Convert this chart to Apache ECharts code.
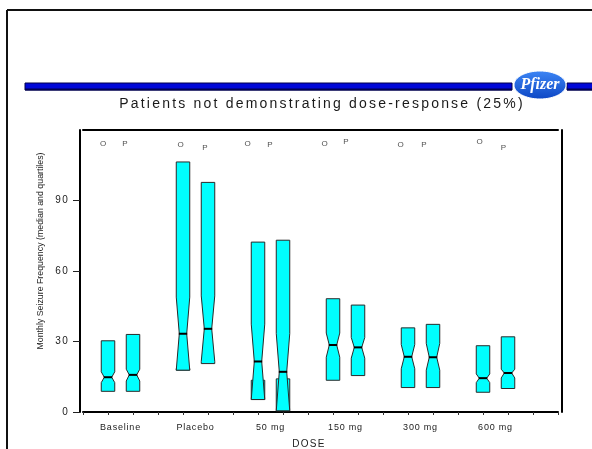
<!DOCTYPE html>
<html>
<head>
<meta charset="utf-8">
<script src="https://cdn.jsdelivr.net/npm/echarts@6/dist/echarts.min.js"></script>
<style>
html,body{margin:0;padding:0;background:#fff;}
#chart{width:592px;height:449px;}
</style>
</head>
<body>
<div id="chart"></div>
<script>
// ---------- data ----------
const categories = ['Baseline', 'Placebo', '50 mg', '150 mg', '300 mg', '600 mg'];
const boxLabels = ['O', 'P'];
// per box (O then P for each dose group)
const q1Values     = [8.8, 8.8, 18.5, 20.6, 13.5, 14.1, 13.5, 15.5, 10.4, 10.4, 8.4, 10.0];
const q3Values     = [30.3, 33.0, 106.4, 97.7, 72.3, 73.1, 48.2, 45.5, 35.8, 37.3, 28.2, 32.0];
const medianValues = [14.8, 15.8, 33.3, 35.4, 21.5, 17.1, 28.5, 27.5, 23.5, 23.3, 14.4, 16.6];
const notchLow     = [12.5, 13.2, 17.8, 21.5, 5.3, 0.5, 23.3, 22.9, 18.4, 17.8, 12.5, 14.5];
const notchHigh    = [17.1, 18.2, 48.9, 49.4, 37.4, 33.4, 33.6, 31.7, 28.7, 29.2, 16.2, 18.2];
// O / P annotation marks near the top (x in axis units, y in frequency units)
const oMarkX = [0.8, 3.9, 6.58, 9.66, 12.7, 15.86];
const oMarkY = [114.3, 113.5, 114.3, 114.3, 113.5, 114.8];
const pMarkX = [1.68, 4.88, 7.48, 10.52, 13.64, 16.82];
const pMarkY = [114.3, 112.6, 113.5, 114.8, 113.5, 112.6];
const yTicks = [0, 30, 60, 90];

// ---------- letter spacing (the reference text is widely tracked) ----------
(function () {
  const proto = CanvasRenderingContext2D.prototype;
  const orig = proto.fillText;
  const spacingBySize = { '14': 2.2, '9': 0.8, '10': 1.3 };
  proto.fillText = function (t, x, y, m) {
    const mm = /([\d.]+)px/.exec(this.font || '');
    const s = mm && spacingBySize[mm[1]] !== undefined ? spacingBySize[mm[1]] : 0;
    try { this.letterSpacing = s + 'px'; } catch (e) {}
    return m === undefined ? orig.call(this, t, x, y) : orig.call(this, t, x, y, m);
  };
})();

// ---------- build series data ----------
const boxData = [];
for (let i = 0; i < q1Values.length; i++) {
  const grp = Math.floor(i / 2), sub = i % 2;
  boxData.push([grp * 3 + 1 + sub, q1Values[i], q3Values[i], medianValues[i], notchLow[i], notchHigh[i]]);
}
const markData = [];
for (let g = 0; g < categories.length; g++) {
  markData.push({ value: [oMarkX[g], oMarkY[g]], name: boxLabels[0] });
  markData.push({ value: [pMarkX[g], pMarkY[g]], name: boxLabels[1] });
}
const tickVals = [];
for (let v = 0; v <= 19; v++) tickVals.push(v);
const labelVals = categories.map((c, i) => i * 3 + 1.5);

const FONT = 'Liberation Sans';
const CYAN = '#00ffff';
const EDGE = '#2a2a2a';

function renderBox(params, api) {
  const x = api.value(0);
  const q1 = api.value(1), q3 = api.value(2), med = api.value(3), nLo = api.value(4), nHi = api.value(5);
  const cx = api.coord([x, 0])[0];
  const hw = api.size([0.27, 0])[0];
  const ww = hw * 0.55;
  const L = cx - hw, R = cx + hw;
  const y = v => api.coord([x, v])[1];
  const yQ1 = y(q1), yQ3 = y(q3), yMed = y(med), yLo = y(nLo), yHi = y(nHi);
  const children = [];
  let pts;
  if (nLo >= q1) {
    pts = [[L, yQ3], [R, yQ3], [R, yHi], [cx + ww, yMed], [R, yLo], [R, yQ1], [L, yQ1], [L, yLo], [cx - ww, yMed], [L, yHi]];
  } else {
    children.push({
      type: 'rect',
      shape: { x: L, y: yQ1, width: 2 * hw, height: yLo - yQ1 },
      style: { fill: CYAN, stroke: EDGE, lineWidth: 1 }
    });
    pts = [[L, yQ3], [R, yQ3], [R, yHi], [cx + ww, yMed], [R, yLo], [L, yLo], [cx - ww, yMed], [L, yHi]];
  }
  children.push({
    type: 'polygon',
    shape: { points: pts },
    style: { fill: CYAN, stroke: EDGE, lineWidth: 1 }
  });
  children.push({
    type: 'line',
    shape: { x1: cx - ww - 0.5, y1: yMed, x2: cx + ww + 0.5, y2: yMed },
    style: { stroke: '#000', lineWidth: 2 }
  });
  return { type: 'group', children: children };
}

const chart = echarts.init(document.getElementById('chart'), null, { renderer: 'canvas' });
chart.setOption({
  backgroundColor: '#ffffff',
  animation: false,
  grid: { left: 83, right: 34, top: 130, bottom: 37 },
  xAxis: [
    {
      type: 'value', position: 'bottom', min: 0, max: 19, interval: 1,
      axisLine: { show: true, lineStyle: { color: '#000', width: 2 } },
      axisTick: { show: true, length: 3, customValues: tickVals, lineStyle: { color: '#333', width: 1 } },
      axisLabel: {
        show: true, customValues: labelVals, margin: 11,
        color: '#222', fontFamily: FONT, fontSize: 9,
        formatter: v => categories[Math.round((v - 1.5) / 3)] || ''
      },
      splitLine: { show: false }
    },
    {
      type: 'value', position: 'top', min: 0, max: 19,
      axisLine: { show: true, onZero: false, lineStyle: { color: '#000', width: 2 } },
      axisTick: { show: false }, axisLabel: { show: false }, splitLine: { show: false }
    }
  ],
  yAxis: [
    {
      type: 'value', position: 'left', min: 0, max: 120, interval: 30, offset: 3,
      axisLine: { show: true, onZero: false, lineStyle: { color: '#000', width: 2 } },
      axisTick: { show: true, length: 7, customValues: yTicks, lineStyle: { color: '#222', width: 1 } },
      axisLabel: { show: true, customValues: yTicks, margin: 11, color: '#222', fontFamily: FONT, fontSize: 10 },
      splitLine: { show: false }
    },
    {
      type: 'value', position: 'right', min: 0, max: 120, offset: 4,
      axisLine: { show: true, onZero: false, lineStyle: { color: '#000', width: 2 } },
      axisTick: { show: false }, axisLabel: { show: false }, splitLine: { show: false }
    }
  ],
  series: [
    {
      type: 'custom',
      xAxisIndex: 0, yAxisIndex: 0,
      renderItem: renderBox,
      data: boxData,
      encode: { x: 0, y: [1, 2, 3, 4, 5] },
      silent: true
    },
    {
      type: 'scatter',
      xAxisIndex: 0, yAxisIndex: 0,
      symbolSize: 0,
      data: markData,
      label: {
        show: true, position: 'inside', formatter: p => p.name,
        color: '#222', fontFamily: FONT, fontSize: 8
      },
      silent: true
    }
  ],
  graphic: [
    // outer slide frame
    { type: 'line', shape: { x1: 7, y1: 10, x2: 592, y2: 10 }, style: { stroke: '#111', lineWidth: 2 } },
    { type: 'line', shape: { x1: 7, y1: 10, x2: 7, y2: 449 }, style: { stroke: '#111', lineWidth: 2 } },
    // blue header bars
    { type: 'rect', shape: { x: 25, y: 83, width: 487, height: 7 }, style: { fill: '#0008d8', stroke: '#00004a', lineWidth: 1 } },
    { type: 'line', shape: { x1: 25, y1: 89.5, x2: 512, y2: 89.5 }, style: { stroke: '#000050', lineWidth: 2 } },
    { type: 'rect', shape: { x: 567, y: 83, width: 30, height: 7 }, style: { fill: '#0008d8', stroke: '#00004a', lineWidth: 1 } },
    { type: 'line', shape: { x1: 567, y1: 89.5, x2: 592, y2: 89.5 }, style: { stroke: '#000050', lineWidth: 2 } },
    // logo
    {
      type: 'ellipse', shape: { cx: 540, cy: 85, rx: 26, ry: 14 },
      style: {
        fill: new echarts.graphic.LinearGradient(0, 0, 0, 1, [
          { offset: 0, color: '#3d86f5' }, { offset: 1, color: '#0c46c4' }
        ]),
        stroke: '#ffffff', lineWidth: 1
      }
    },
    {
      type: 'text', x: 540, y: 85,
      style: { text: 'Pfizer', fill: '#ffffff', font: 'italic bold 16px "Liberation Serif"', align: 'center', verticalAlign: 'middle' }
    },
    // title
    {
      type: 'text', x: 322, y: 104,
      style: { text: 'Patients not demonstrating dose-response (25%)', fill: '#1a1a1a', font: '14px "Liberation Sans"', align: 'center', verticalAlign: 'middle' }
    },
    // y axis name
    {
      type: 'text', x: 41, y: 251, rotation: Math.PI / 2,
      style: { text: 'Monthly Seizure Frequency (median and quartiles)', fill: '#222', font: '8.8px "Liberation Sans"', align: 'center', verticalAlign: 'middle' }
    },
    // x axis name
    {
      type: 'text', x: 309, y: 444,
      style: { text: 'DOSE', fill: '#222', font: '10px "Liberation Sans"', align: 'center', verticalAlign: 'middle' }
    }
  ]
});
</script>
</body>
</html>
